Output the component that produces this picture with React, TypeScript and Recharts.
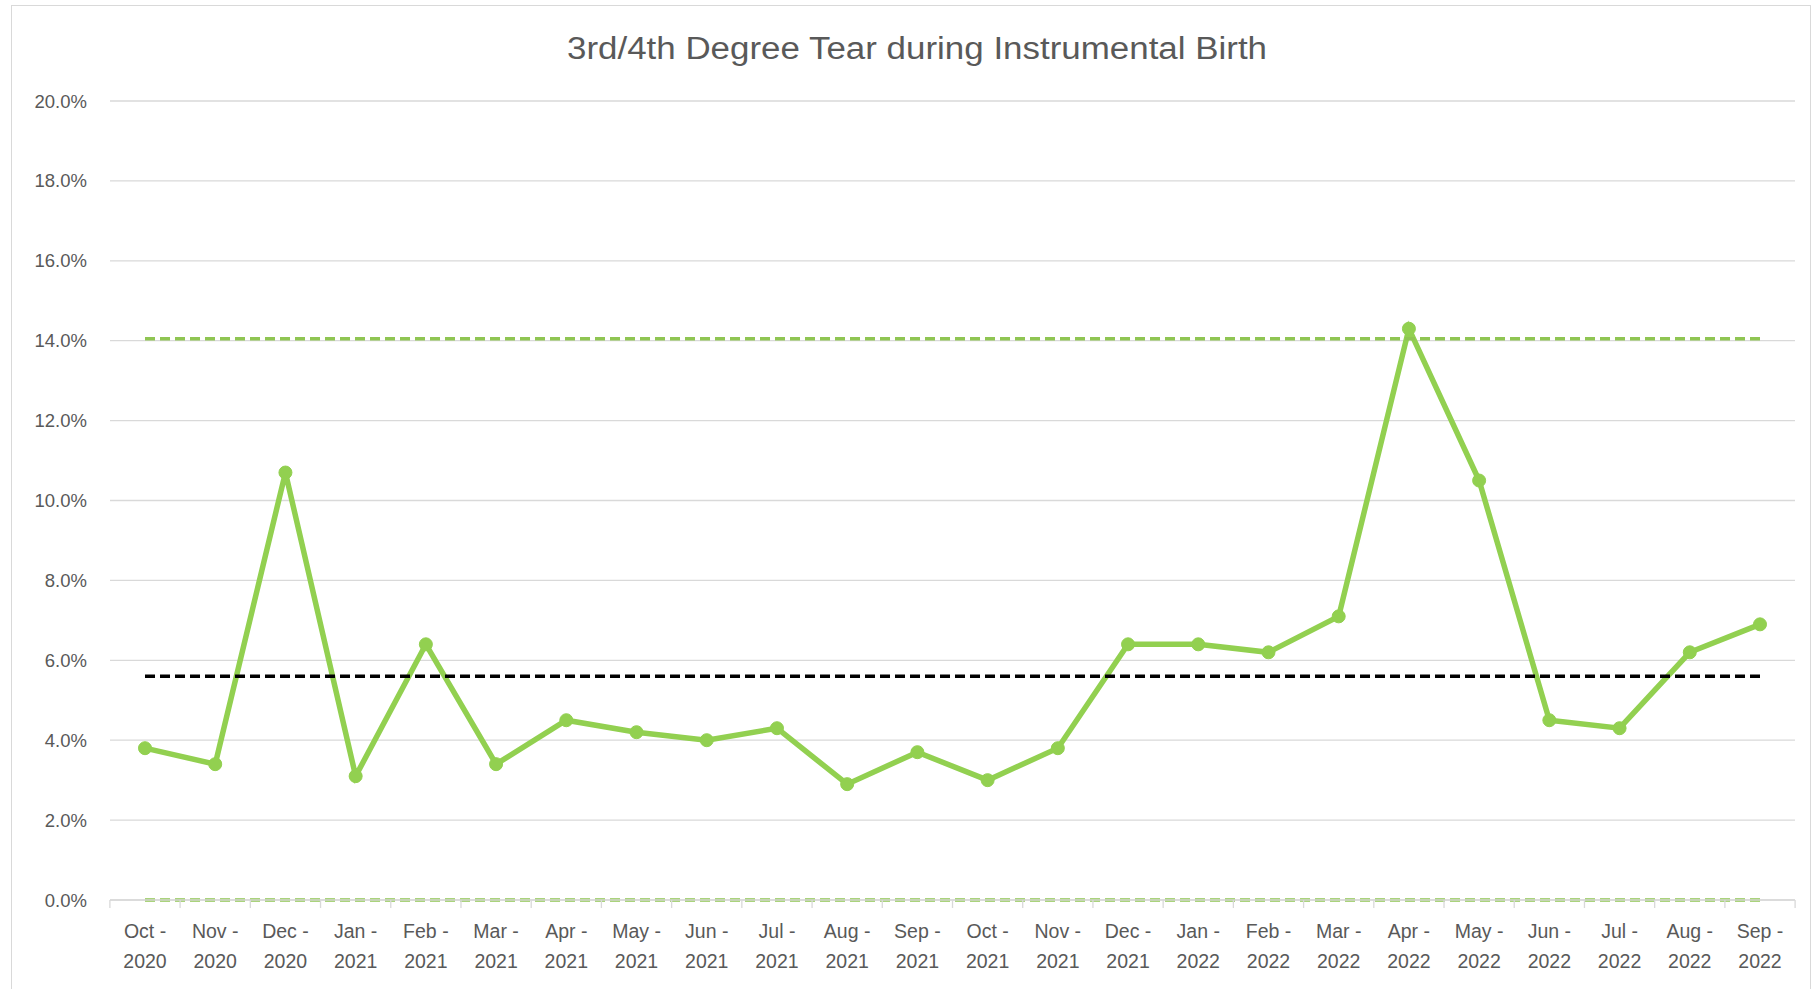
import React from "react";
import { LineChart, Line, XAxis, YAxis, CartesianGrid } from "recharts";

const categories = [
  "Oct - 2020", "Nov - 2020", "Dec - 2020", "Jan - 2021", "Feb - 2021", "Mar - 2021",
  "Apr - 2021", "May - 2021", "Jun - 2021", "Jul - 2021", "Aug - 2021", "Sep - 2021",
  "Oct - 2021", "Nov - 2021", "Dec - 2021", "Jan - 2022", "Feb - 2022", "Mar - 2022",
  "Apr - 2022", "May - 2022", "Jun - 2022", "Jul - 2022", "Aug - 2022", "Sep - 2022",
];
const rateValues = [
  3.8, 3.4, 10.7, 3.1, 6.4, 3.4,
  4.5, 4.2, 4.0, 4.3, 2.9, 3.7,
  3.0, 3.8, 6.4, 6.4, 6.2, 7.1,
  14.3, 10.5, 4.5, 4.3, 6.2, 6.9,
];
const meanValue = 5.6;
const upperLimit = 14.05;
const lowerLimit = 0;
const yTicks = [0, 2, 4, 6, 8, 10, 12, 14, 16, 18, 20];
const title = "3rd/4th Degree Tear during Instrumental Birth";

const data = categories.map((c, i) => ({
  name: c,
  rate: rateValues[i],
  mean: meanValue,
  ucl: upperLimit,
  lcl: lowerLimit,
}));

const GREEN = "#92D050";
const DASH_GREEN = "#8fc552";
const GRID = "#d9d9d9";
const TEXT = "#595959";
const FONT = "'Liberation Sans', Arial, sans-serif";

const XTick = (props: any) => {
  const { x, y, payload, index, visibleTicksCount, width } = props;
  const count = visibleTicksCount || categories.length;
  const half =
    payload && typeof payload.offset === "number" && payload.offset > 0
      ? payload.offset
      : width / count / 2;
  const label: string = String(payload.value);
  const cut = label.lastIndexOf(" ");
  const l1 = label.slice(0, cut);
  const l2 = label.slice(cut + 1);
  return (
    <g>
      <line x1={x - half} x2={x - half} y1={y} y2={y + 8} stroke={GRID} strokeWidth={1.3} />
      {index === count - 1 ? (
        <line x1={x + half} x2={x + half} y1={y} y2={y + 8} stroke={GRID} strokeWidth={1.3} />
      ) : null}
      <text x={x} y={y + 38} textAnchor="middle" fill={TEXT} fontSize={19.5} fontFamily={FONT}>
        {l1}
      </text>
      <text x={x} y={y + 68} textAnchor="middle" fill={TEXT} fontSize={19.5} fontFamily={FONT}>
        {l2}
      </text>
    </g>
  );
};

export default function App() {
  return (
    <div
      style={{
        position: "absolute",
        left: 0,
        top: 0,
        width: 1814,
        height: 989,
        background: "#fff",
        overflow: "hidden",
      }}
    >
      <div
        style={{
          position: "absolute",
          left: 11,
          top: 5,
          width: 1800,
          height: 1000,
          border: "1.5px solid #d9d9d9",
          boxSizing: "border-box",
        }}
      />
      <svg style={{ position: "absolute", left: 0, top: 0 }} width={1814} height={90}>
        <text
          x={917}
          y={59}
          textAnchor="middle"
          fill={TEXT}
          fontSize={31}
          fontFamily={FONT}
          textLength={700}
          lengthAdjust="spacingAndGlyphs"
        >
          {title}
        </text>
      </svg>
      <div style={{ position: "absolute", left: 0, top: 0 }}>
        <LineChart
          width={1814}
          height={989}
          data={data}
          margin={{ top: 101, right: 19, bottom: 0, left: 0 }}
        >
          <CartesianGrid vertical={false} stroke={GRID} strokeWidth={1.3} />
          <XAxis
            dataKey="name"
            interval={0}
            tick={<XTick />}
            tickLine={false}
            tickSize={0}
            tickMargin={0}
            padding={{ left: 35, right: 35 }}
            axisLine={{ stroke: GRID, strokeWidth: 1.3 }}
            height={89}
          />
          <YAxis
            width={110}
            domain={[0, 20]}
            ticks={yTicks}
            interval={0}
            axisLine={false}
            tickLine={false}
            tickSize={0}
            tickMargin={23}
            tickFormatter={(v: number) => `${v.toFixed(1)}%`}
            tick={{ fill: TEXT, fontSize: 18.5, fontFamily: FONT }}
          />
          <Line
            dataKey="rate"
            stroke={GREEN}
            strokeWidth={5.5}
            dot={{ r: 6.5, fill: GREEN, stroke: GREEN, strokeWidth: 1 }}
            activeDot={false}
            isAnimationActive={false}
          />
          <Line
            dataKey="mean"
            stroke="#000000"
            strokeWidth={3.6}
            strokeDasharray="10 5"
            dot={false}
            activeDot={false}
            isAnimationActive={false}
          />
          <Line
            dataKey="ucl"
            stroke={DASH_GREEN}
            strokeWidth={3.6}
            strokeDasharray="10 5"
            dot={false}
            activeDot={false}
            isAnimationActive={false}
          />
          <Line
            dataKey="lcl"
            stroke={DASH_GREEN}
            strokeWidth={3.6}
            strokeDasharray="10 5"
            dot={false}
            activeDot={false}
            isAnimationActive={false}
          />
        </LineChart>
      </div>
    </div>
  );
}
